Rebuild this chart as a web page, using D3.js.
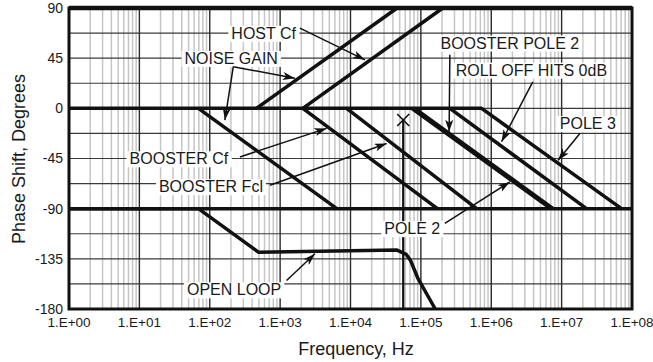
<!DOCTYPE html>
<html>
<head>
  <meta charset="utf-8">
  <title>Phase Shift vs Frequency</title>
  <style>
    body { margin: 0; background: #fff; }
    svg text { font-family: "Liberation Sans", Arial, Helvetica, sans-serif; fill: #1a1a1a; }
  </style>
</head>
<body>
<div id="chart"></div>
<script src="https://d3js.org/d3.v7.min.js"></script>
<script>
  // axis ticks
  var freqTicks = [1, 1e1, 1e2, 1e3, 1e4, 1e5, 1e6, 1e7, 1e8];
  var freqTickLabels = ["1.E+00", "1.E+01", "1.E+02", "1.E+03", "1.E+04", "1.E+05", "1.E+06", "1.E+07", "1.E+08"];
  var phaseTicks = [-180, -135, -90, -45, 0, 45, 90];
  var phaseGrid = [-157.5, -135, -112.5, -90, -67.5, -45, -22.5, 0, 22.5, 45, 67.5];

  // curves, [frequency Hz, phase degrees]
  var floorLine = [[1, -90], [1e8, -90]];
  var pole3 = [[1, 0], [728000, 0], [7.1e7, -90]];
  var noiseGainDown = [[69, 0], [6400, -90]];
  var noiseGainUp = [[460, 0], [46000, 90]];
  var hostCf = [[2100, 0], [205000, 90]];
  var boosterCf = [[2100, 0], [172000, -90]];
  var boosterFcl = [[8800, 0], [620000, -90]];
  var boosterPole2a = [[74000, 0], [7.0e6, -90]];
  var boosterPole2b = [[82000, 0], [7.6e6, -90]];
  var rollOff = [[258000, 0], [2.26e7, -90]];
  var openLoop = [[1, -90], [69, -90], [490, -129], [45000, -127], [62000, -131],
                  [72000, -137], [90000, -152], [160000, -180]];
  var pole2Freq = 56100;
  var pole2Phase = -10.5;

  // labels: text, centre [Hz, deg], arrows [from, to]
  var labels = [
    { text: "HOST Cf", at: [583, 67.5], arrows: [[[1910, 72], [16030, 43.5]]] },
    { text: "NOISE GAIN", at: [202, 45], arrows: [[[216, 37.4], [164, -10.5]], [[216, 37.4], [1622, 27]]] },
    { text: "BOOSTER Cf", at: [36.5, -45], arrows: [[[268, -43.6], [4571, -18]]] },
    { text: "BOOSTER Fcl", at: [104, -70], arrows: [[[716, -69], [32590, -31.5]]] },
    { text: "BOOSTER POLE 2", at: [1.837e6, 58.8], arrows: [[[2.58e5, 48], [2.52e5, -21]]] },
    { text: "ROLL OFF HITS 0dB", at: [3.715e6, 34.5], arrows: [[[3.89e6, 23.7], [1.40e6, -30]]] },
    { text: "POLE 3", at: [2.355e7, -13.5], arrows: [[[1.816e7, -22.5], [8.91e6, -46.5]]] },
    { text: "POLE 2", at: [75340, -107.7], arrows: [[[2.19e5, -103.2], [1.837e6, -66]]] },
    { text: "OPEN LOOP", at: [222, -162.6], arrows: [[[1236, -154.5], [3119, -130.5]]] }
  ];

  var W = 653, H = 362;
  var margin = { top: 8, right: 21, bottom: 53, left: 69 },
    width = W - margin.left - margin.right,
    height = H - margin.top - margin.bottom;

  var svg = d3.select("#chart").append("svg")
    .attr("width", W).attr("height", H);

  var defs = svg.append("defs");
  defs.append("marker")
    .attr("id", "arrow")
    .attr("viewBox", "0 0 12 8")
    .attr("refX", 12).attr("refY", 4)
    .attr("markerWidth", 12).attr("markerHeight", 8)
    .attr("markerUnits", "userSpaceOnUse")
    .attr("orient", "auto")
    .append("path")
    .attr("d", "M0,0 L12,4 L0,8 L3,4 Z")
    .attr("fill", "#111");

  var g = svg.append("g")
    .attr("transform", "translate(" + margin.left + "," + margin.top + ")");

  var x = d3.scaleLog().domain([1, 1e8]).range([0, width]);
  var y = d3.scaleLinear().domain([-180, 90]).range([height, 0]);

  // minor vertical grid
  var minor = [];
  freqTicks.slice(0, -1).forEach(function (d) {
    for (var k = 2; k <= 9; k++) minor.push(d * k);
  });
  g.append("g").selectAll("line").data(minor).join("line")
    .attr("x1", function (d) { return x(d); }).attr("x2", function (d) { return x(d); })
    .attr("y1", 0).attr("y2", height)
    .attr("stroke", "#c6c6c6").attr("stroke-width", 1.5);

  // horizontal grid
  g.append("g").selectAll("line").data(phaseGrid).join("line")
    .attr("x1", 0).attr("x2", width)
    .attr("y1", function (d) { return y(d); }).attr("y2", function (d) { return y(d); })
    .attr("stroke", "#3a3a3a").attr("stroke-width", 1.2);

  // decade grid
  g.append("g").selectAll("line").data(freqTicks).join("line")
    .attr("x1", function (d) { return x(d); }).attr("x2", function (d) { return x(d); })
    .attr("y1", 0).attr("y2", height)
    .attr("stroke", "#2a2a2a").attr("stroke-width", 1.4);

  // frame
  g.append("rect")
    .attr("x", 0).attr("y", 0).attr("width", width).attr("height", height)
    .attr("fill", "none").attr("stroke", "#111").attr("stroke-width", 3);
  g.append("line")
    .attr("x1", 0).attr("x2", width).attr("y1", y(90)).attr("y2", y(90))
    .attr("stroke", "#111").attr("stroke-width", 4.5);

  // curves
  var line = d3.line()
    .x(function (d) { return x(d[0]); })
    .y(function (d) { return y(d[1]); });

  var curves = [floorLine, pole3, noiseGainDown, noiseGainUp, hostCf, boosterCf, boosterFcl,
    boosterPole2a, boosterPole2b, rollOff, openLoop];
  g.append("g").selectAll("path").data(curves).join("path")
    .attr("d", line)
    .attr("fill", "none")
    .attr("stroke", "#111")
    .attr("stroke-width", 3.5)
    .attr("stroke-linejoin", "round");

  // pole 2 marker
  g.append("line")
    .attr("x1", x(pole2Freq)).attr("x2", x(pole2Freq))
    .attr("y1", y(pole2Phase)).attr("y2", height)
    .attr("stroke", "#111").attr("stroke-width", 2.2);
  g.append("path")
    .attr("d", "M-6,-6 L6,6 M-6,6 L6,-6")
    .attr("transform", "translate(" + x(pole2Freq) + "," + y(pole2Phase) + ")")
    .attr("stroke", "#111").attr("stroke-width", 1.6).attr("fill", "none");

  // axes labels
  g.append("g").selectAll("text").data(phaseTicks).join("text")
    .attr("x", -6).attr("y", function (d) { return y(d); })
    .attr("dy", "0.35em")
    .attr("text-anchor", "end")
    .attr("font-size", 14)
    .text(function (d) { return d; });

  g.append("g").selectAll("text").data(freqTicks).join("text")
    .attr("x", function (d) { return x(d); }).attr("y", height + 18)
    .attr("text-anchor", "middle")
    .attr("font-size", 13.5)
    .text(function (d, i) { return freqTickLabels[i]; });

  svg.append("text")
    .attr("x", 356).attr("y", 355)
    .attr("text-anchor", "middle")
    .attr("font-size", 18)
    .text("Frequency, Hz");

  svg.append("text")
    .attr("transform", "translate(25,159) rotate(-90)")
    .attr("text-anchor", "middle")
    .attr("font-size", 18)
    .text("Phase Shift, Degrees");

  // annotations
  var ann = g.append("g");
  labels.forEach(function (l) {
    var lg = ann.append("g");
    var rect = lg.append("rect").attr("fill", "#fff");
    var t = lg.append("text")
      .attr("x", x(l.at[0])).attr("y", y(l.at[1]))
      .attr("dy", "0.36em")
      .attr("text-anchor", "middle")
      .attr("font-size", 16)
      .text(l.text);
    var b = t.node().getBBox();
    rect.attr("x", b.x - 3).attr("y", b.y + 1).attr("width", b.width + 6).attr("height", b.height - 1);
    l.arrows.forEach(function (a) {
      ann.append("line")
        .attr("x1", x(a[0][0])).attr("y1", y(a[0][1]))
        .attr("x2", x(a[1][0])).attr("y2", y(a[1][1]))
        .attr("stroke", "#111").attr("stroke-width", 1.5)
        .attr("marker-end", "url(#arrow)");
    });
  });
</script>
</body>
</html>
